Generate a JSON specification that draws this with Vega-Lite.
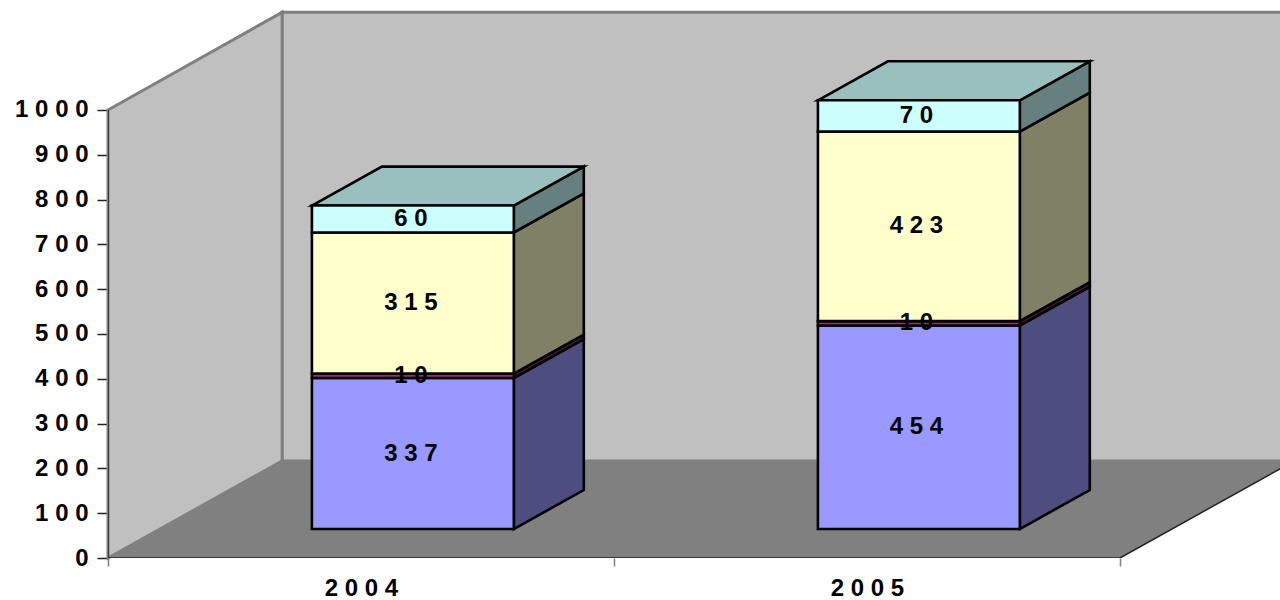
{
"$schema":"https://vega.github.io/schema/vega-lite/v6.json",
"width":1172,"height":554,
"autosize":{"type":"none"},
"padding":{"left":108,"top":4,"right":0,"bottom":42},
"background":"white",
"config":{"view":{"stroke":null}},
"datasets":{
"backWall":[{"x":0.344,"y":1218,"y2":216.5},{"x":2.34,"y":1218,"y2":216.5}],
"sideWall":[{"x":0,"y":1000,"y2":0},{"x":0.344,"y":1218,"y2":216.5}],
"floor":[{"x":0,"y":0,"y2":0},{"x":0.344,"y":216.5,"y2":0},{"x":2,"y":216.5,"y2":0},{"x":2.344,"y":216.5,"y2":216.5}],
"faces":[
{"id":"b1-blue-side","face":"blue side","x":0.802,"y":401.7,"y2":64.7},{"id":"b1-blue-side","face":"blue side","x":0.9403,"y":488.7,"y2":151.7},
{"id":"b1-red-side","face":"red side","x":0.802,"y":411.7,"y2":401.7},{"id":"b1-red-side","face":"red side","x":0.9403,"y":498.7,"y2":488.7},
{"id":"b1-yellow-side","face":"yellow side","x":0.802,"y":726.7,"y2":411.7},{"id":"b1-yellow-side","face":"yellow side","x":0.9403,"y":813.7,"y2":498.7},
{"id":"b1-cyan-side","face":"cyan side","x":0.802,"y":786.7,"y2":726.7},{"id":"b1-cyan-side","face":"cyan side","x":0.9403,"y":873.7,"y2":813.7},
{"id":"b1-top","face":"top","x":0.403,"y":786.7,"y2":786.7},{"id":"b1-top","face":"top","x":0.5413,"y":873.7,"y2":786.7},{"id":"b1-top","face":"top","x":0.802,"y":873.7,"y2":786.7},{"id":"b1-top","face":"top","x":0.9403,"y":873.7,"y2":873.7},
{"id":"b1-blue","face":"blue","x":0.403,"y":401.7,"y2":64.7},{"id":"b1-blue","face":"blue","x":0.802,"y":401.7,"y2":64.7},
{"id":"b1-red","face":"red","x":0.403,"y":411.7,"y2":401.7},{"id":"b1-red","face":"red","x":0.802,"y":411.7,"y2":401.7},
{"id":"b1-yellow","face":"yellow","x":0.403,"y":726.7,"y2":411.7},{"id":"b1-yellow","face":"yellow","x":0.802,"y":726.7,"y2":411.7},
{"id":"b1-cyan","face":"cyan","x":0.403,"y":786.7,"y2":726.7},{"id":"b1-cyan","face":"cyan","x":0.802,"y":786.7,"y2":726.7},
{"id":"b2-blue-side","face":"blue side","x":1.802,"y":518.7,"y2":64.7},{"id":"b2-blue-side","face":"blue side","x":1.9403,"y":605.7,"y2":151.7},
{"id":"b2-red-side","face":"red side","x":1.802,"y":528.7,"y2":518.7},{"id":"b2-red-side","face":"red side","x":1.9403,"y":615.7,"y2":605.7},
{"id":"b2-yellow-side","face":"yellow side","x":1.802,"y":951.7,"y2":528.7},{"id":"b2-yellow-side","face":"yellow side","x":1.9403,"y":1038.7,"y2":615.7},
{"id":"b2-cyan-side","face":"cyan side","x":1.802,"y":1021.7,"y2":951.7},{"id":"b2-cyan-side","face":"cyan side","x":1.9403,"y":1108.7,"y2":1038.7},
{"id":"b2-top","face":"top","x":1.403,"y":1021.7,"y2":1021.7},{"id":"b2-top","face":"top","x":1.5413,"y":1108.7,"y2":1021.7},{"id":"b2-top","face":"top","x":1.802,"y":1108.7,"y2":1021.7},{"id":"b2-top","face":"top","x":1.9403,"y":1108.7,"y2":1108.7},
{"id":"b2-blue","face":"blue","x":1.403,"y":518.7,"y2":64.7},{"id":"b2-blue","face":"blue","x":1.802,"y":518.7,"y2":64.7},
{"id":"b2-red","face":"red","x":1.403,"y":528.7,"y2":518.7},{"id":"b2-red","face":"red","x":1.802,"y":528.7,"y2":518.7},
{"id":"b2-yellow","face":"yellow","x":1.403,"y":951.7,"y2":528.7},{"id":"b2-yellow","face":"yellow","x":1.802,"y":951.7,"y2":528.7},
{"id":"b2-cyan","face":"cyan","x":1.403,"y":1021.7,"y2":951.7},{"id":"b2-cyan","face":"cyan","x":1.802,"y":1021.7,"y2":951.7}
],
"edges":[{"x":0,"x2":2,"y":0,"y2":0},{"x":0,"x2":0,"y":0,"y2":1000},{"x":2,"x2":2.344,"y":0,"y2":216.5}],
"labels":[
{"year":2004,"value":337,"label":"3 3 7","x":0.5985,"y":233},
{"year":2004,"value":10,"label":"1 0","x":0.5985,"y":406.7},
{"year":2004,"value":315,"label":"3 1 5","x":0.5985,"y":569},
{"year":2004,"value":60,"label":"6 0","x":0.5985,"y":756.7},
{"year":2005,"value":454,"label":"4 5 4","x":1.5975,"y":291.7},
{"year":2005,"value":10,"label":"1 0","x":1.5975,"y":523.7},
{"year":2005,"value":423,"label":"4 2 3","x":1.5975,"y":740.2},
{"year":2005,"value":70,"label":"7 0","x":1.5975,"y":986.7}
]
},
"layer":[
{"data":{"name":"backWall"},
 "mark":{"type":"area","fill":"#C0C0C0","stroke":"#808080","strokeWidth":3,"clip":true},
 "encoding":{
  "x":{"field":"x","type":"quantitative","scale":{"domain":[0,2.3162],"nice":false,"zero":false},
   "axis":{"values":[0,0.5,1,1.5,2],"title":null,"grid":false,"domain":false,"labelExpr":"datum.value==0.5?'2 0 0 4':datum.value==1.5?'2 0 0 5':''","labelFont":"Liberation Sans","labelFontWeight":"bold","labelFontSize":24,"labelColor":"#000000","labelPadding":10,"tickSize":8,"tickColor":"#808080","tickWidth":{"condition":{"test":"datum.value%1!=0","value":0},"value":1.5},"labelAngle":0,"labelOverlap":false,"labelFlush":false}},
  "y":{"field":"y","type":"quantitative","scale":{"domain":[0,1236.6],"nice":false,"zero":false},
   "axis":{"values":[0,100,200,300,400,500,600,700,800,900,1000],"title":null,"grid":false,"domain":false,"format":"d","labelExpr":"join(split(datum.label,''),' ')","labelFont":"Liberation Sans","labelFontWeight":"bold","labelFontSize":24,"labelColor":"#000000","labelPadding":9,"tickSize":11,"tickColor":"#222222","tickWidth":1.5,"labelOverlap":false,"labelFlush":false}},
  "y2":{"field":"y2"}
 }},
{"data":{"name":"sideWall"},
 "mark":{"type":"area","fill":"#C0C0C0","stroke":"#808080","strokeWidth":3},
 "encoding":{"x":{"field":"x","type":"quantitative"},"y":{"field":"y","type":"quantitative"},"y2":{"field":"y2"}}},
{"data":{"name":"floor"},
 "mark":{"type":"area","fill":"#808080","clip":true},
 "encoding":{"x":{"field":"x","type":"quantitative"},"y":{"field":"y","type":"quantitative"},"y2":{"field":"y2"}}},
{"data":{"name":"edges"},
 "mark":{"type":"rule","color":"#222222","strokeWidth":1.5,"clip":true},
 "encoding":{"x":{"field":"x","type":"quantitative"},"x2":{"field":"x2"},"y":{"field":"y","type":"quantitative"},"y2":{"field":"y2"}}},
{"data":{"name":"faces"},
 "mark":{"type":"area","stroke":"#000000","strokeWidth":2.6,"opacity":1,"fillOpacity":1},
 "encoding":{"x":{"field":"x","type":"quantitative"},"y":{"field":"y","type":"quantitative"},"y2":{"field":"y2"},
  "detail":{"field":"id"},
  "color":{"field":"face","type":"nominal","legend":null,"scale":{"domain":["blue","blue side","red","red side","yellow","yellow side","cyan","cyan side","top"],"range":["#9999FF","#4D4D80","#993366","#4D1A33","#FFFFCC","#808066","#CCFFFF","#668080","#99BFBF"]}}}},
{"data":{"name":"labels"},
 "mark":{"type":"text","font":"Liberation Sans","fontWeight":"bold","fontSize":24,"color":"#000000","align":"center","baseline":"middle"},
 "encoding":{"x":{"field":"x","type":"quantitative"},"y":{"field":"y","type":"quantitative"},"text":{"field":"label"}}}
]
}
